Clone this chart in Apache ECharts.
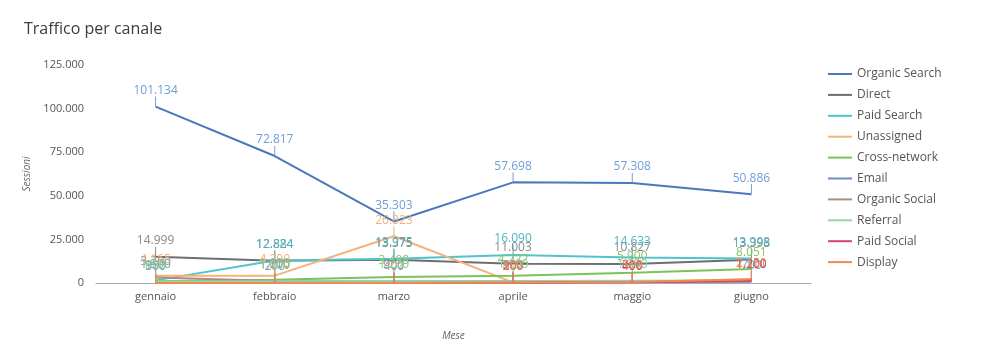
<!DOCTYPE html>
<html><head><meta charset="utf-8">
<script src="https://cdn.jsdelivr.net/npm/echarts@6/dist/echarts.min.js"></script>
<style>html,body{margin:0;padding:0;background:#fff}#c{width:1000px;height:362px}</style>
</head><body><div id="c"></div>
<script>
const months = ['gennaio','febbraio','marzo','aprile','maggio','giugno'];
const yTicks = [0, 25000, 50000, 75000, 100000, 125000];
const organicSearch = [101134, 72817, 35303, 57698, 57308, 50886];
const direct        = [14999, 12824, 13375, 11003, 10827, 13398];
const paidSearch    = [1500, 12884, 13975, 16090, 14633, 13998];
const unassigned    = [4165, 4200, 26823, 367, 500, 2150];
const crossNetwork  = [983, 1900, 3498, 4222, 5900, 8051];
const email         = [300, 200, 400, 500, 600, 700];
const organicSocial = [3200, 1200, 900, 800, 700, 1100];
const referral      = [800, 1000, 1200, 1100, 1300, 1500];
const paidSocial    = [0, 0, 0, 200, 400, 1200];
const display       = [0, 0, 0, 300, 509, 2151];

const seriesDefs = [
  ['Organic Search', organicSearch, '#4a78bd', '#6f9fd6'],
  ['Direct', direct, '#6e6e72', '#8a8a8a'],
  ['Paid Search', paidSearch, '#4fc4cf', '#4fb6c4'],
  ['Unassigned', unassigned, '#f4b27c', '#f0b07a'],
  ['Cross-network', crossNetwork, '#7dc25b', '#8cc46a'],
  ['Email', email, '#6b8fc0', '#7f9fcc'],
  ['Organic Social', organicSocial, '#b08b7c', '#b89a8a'],
  ['Referral', referral, '#93d3a6', '#8ccf9f'],
  ['Paid Social', paidSocial, '#d2456e', '#d2456e'],
  ['Display', display, '#f08a52', '#f08a52']
];
const fmt = v => String(Math.round(v)).replace(/\B(?=(\d{3})+(?!\d))/g, '.');

const chart = echarts.init(document.getElementById('c'), null, {renderer:'canvas'});
chart.setOption({
  animation: false,
  textStyle: {fontFamily: 'Open Sans'},
  title: {text: 'Traffico per canale', left: 19, top: 16,
    textStyle: {fontSize: 16, fontWeight: 'normal', color: '#3c3c3c', fontFamily: 'Open Sans'}},
  legend: {orient: 'vertical', left: 823, top: 63, itemWidth: 24, itemHeight: 2, itemGap: 8.9,
    icon: 'rect', textStyle: {fontSize: 12, color: '#555', fontFamily: 'Open Sans'},
    data: seriesDefs.map(s => s[0])},
  grid: {left: 96, right: 189, top: 65, bottom: 79},
  xAxis: {type: 'category', data: months, boundaryGap: true,
    name: 'Mese', nameLocation: 'middle', nameGap: 48,
    nameTextStyle: {fontStyle: 'italic', fontSize: 10, color: '#666'},
    axisLine: {lineStyle: {color: '#aaa'}}, axisTick: {show: false},
    axisLabel: {fontSize: 11, color: '#555', margin: 8}},
  yAxis: {type: 'value', min: 0, max: 125000, interval: 25000,
    name: 'Sessioni', nameLocation: 'middle', nameGap: 58, nameRotate: 90,
    nameTextStyle: {fontStyle: 'italic', fontSize: 10, color: '#666'},
    splitLine: {show: false}, axisLine: {show: false}, axisTick: {show: false},
    axisLabel: {fontSize: 11, color: '#555', margin: 12, formatter: v => yTicks.includes(v) ? fmt(v) : ''}},
  series: seriesDefs.map(([name, data, color, lc]) => ({
    name, type: 'line', data, symbol: 'circle', symbolSize: 0.1, showSymbol: true,
    lineStyle: {color, width: 2}, itemStyle: {color},
    label: {show: true, position: 'top', distance: 2, formatter: p => p.value ? fmt(p.value) : '',
      color: lc, fontSize: 12, fontFamily: 'Open Sans'},
    labelLine: {show: true, lineStyle: {color: lc, width: 1}},
    labelLayout: {dy: -8}
  }))
});
</script></body></html>
